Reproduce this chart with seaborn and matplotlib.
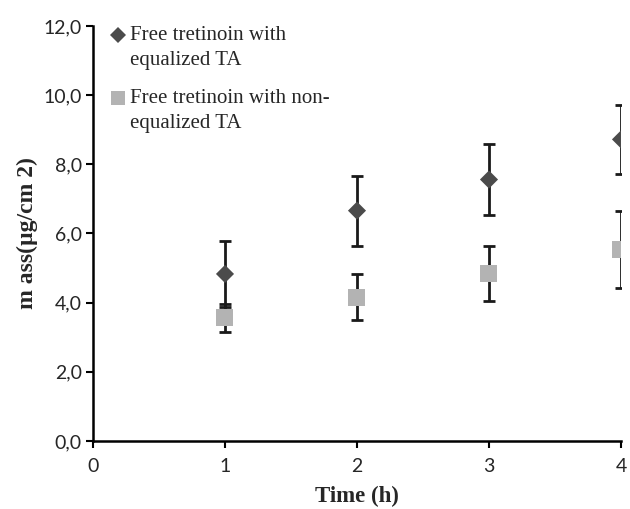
import matplotlib
matplotlib.use("Agg")
import matplotlib.pyplot as plt
import seaborn as sns
import pandas as pd
from matplotlib.lines import Line2D
from matplotlib.legend_handler import HandlerLine2D
from matplotlib.ticker import FuncFormatter, MultipleLocator

time_h = [1, 2, 3, 4]
equalized_mean = [4.83, 6.66, 7.56, 8.72]
equalized_err = [0.96, 1.01, 1.02, 0.99]
nonequalized_mean = [3.56, 4.16, 4.85, 5.53]
nonequalized_err = [0.41, 0.66, 0.80, 1.11]
series_labels = ["Free tretinoin with\nequalized TA", "Free tretinoin with non-\nequalized TA"]

df = pd.DataFrame({
    "Time": time_h * 2,
    "mass": equalized_mean + nonequalized_mean,
    "err": equalized_err + nonequalized_err,
    "series": [series_labels[0]] * 4 + [series_labels[1]] * 4,
})


class TopHandler(HandlerLine2D):
    def create_artists(self, legend, orig_handle, xdescent, ydescent, width, height, fontsize, trans):
        artists = super().create_artists(legend, orig_handle, xdescent, ydescent,
                                         width, height, fontsize, trans)
        for a in artists:
            a.set_ydata([y + 0.6 * fontsize for y in a.get_ydata()])
        return artists


sns.set_style("white")
fig = plt.figure(figsize=(6.3, 5.09), dpi=100)
ax = fig.add_axes([0.1476, 0.1336, 0.8381, 0.8154])

for lab in series_labels:
    sub = df[df["series"] == lab]
    ax.errorbar(sub["Time"], sub["mass"], yerr=sub["err"], fmt="none",
                ecolor="#1a1a1a", elinewidth=2.0, capsize=4.5, capthick=2.0, zorder=2)

sns.scatterplot(data=df, x="Time", y="mass", hue="series", style="series", size="series",
                markers={series_labels[0]: "D", series_labels[1]: "s"},
                sizes={series_labels[0]: 85, series_labels[1]: 150},
                palette={series_labels[0]: "#4b4b4b", series_labels[1]: "#b3b3b3"},
                linewidth=0, ax=ax, zorder=3)

ax.set_xlim(0, 4)
ax.set_ylim(0, 12)
ax.xaxis.set_major_locator(MultipleLocator(1))
ax.yaxis.set_major_locator(MultipleLocator(2))
ax.yaxis.set_major_formatter(FuncFormatter(lambda v, p: f"{v:.1f}".replace(".", ",")))
for s in ["top", "right"]:
    ax.spines[s].set_visible(False)
for s in ["left", "bottom"]:
    ax.spines[s].set_color("black")
    ax.spines[s].set_linewidth(1.8)
ax.tick_params(axis="both", which="major", direction="out", length=5, width=1.5,
               color="black", labelsize=14, left=True, bottom=True)
ax.tick_params(axis="y", pad=3)
ax.tick_params(axis="x", pad=7)
for t in ax.get_xticklabels() + ax.get_yticklabels():
    t.set_fontfamily("Lato")

ax.set_xlabel("Time (h)", fontsize=16.5, fontweight="bold", family="Liberation Serif", labelpad=8)
ax.set_ylabel("m ass(µg/cm 2)", fontsize=17, fontweight="bold", family="Liberation Serif")
ax.yaxis.set_label_coords(-0.105, 0.5)

handles, labels = ax.get_legend_handles_labels()
leg = ax.legend(handles, labels, loc="upper left", bbox_to_anchor=(-0.005, 1.045), frameon=False,
                prop={"family": "Liberation Serif", "size": 15}, handletextpad=0.1,
                labelspacing=0.9, handlelength=0.9, markerscale=0.85,
                handler_map={Line2D: TopHandler()})
for t in leg.get_texts():
    t.set_linespacing(1.45)
ax.grid(False)
fig.savefig("out.png", dpi=100)
